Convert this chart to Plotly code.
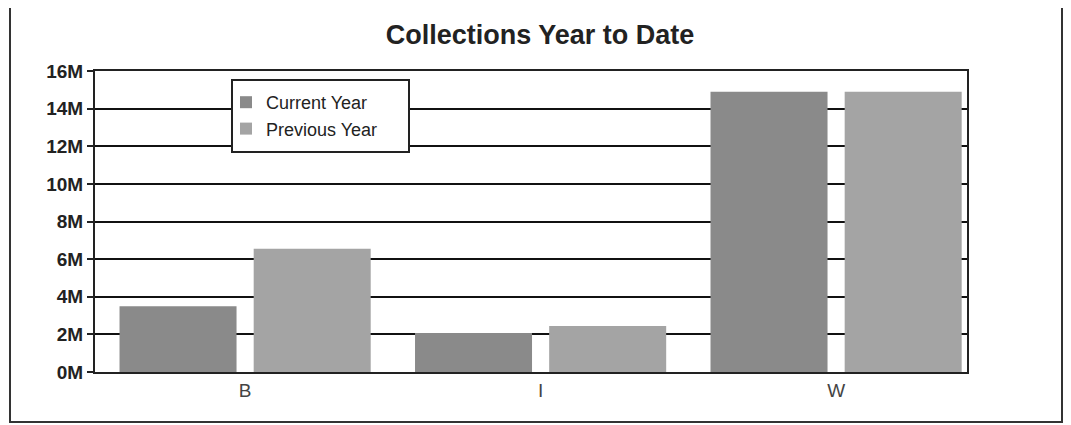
import plotly.graph_objects as go

categories = ["B", "I", "W"]
current_year = [3.5e6, 2.07e6, 14.9e6]
previous_year = [6.55e6, 2.45e6, 14.9e6]
y_ticks = [0, 2e6, 4e6, 6e6, 8e6, 10e6, 12e6, 14e6, 16e6]
y_tick_labels = ["0M", "2M", "4M", "6M", "8M", "10M", "12M", "14M", "16M"]

OFF = 8  # page body margin
W, H = 1071, 425
# target plot area in screen pixels: x 95..967, y 71..372
L = 95 - OFF
T = 71 - OFF
R = W - (967 - OFF)
B = H - (372 - OFF)
pw, ph = W - L - R, H - T - B

def px(x):
    return (x - OFF - L) / pw

def py(y):
    return (H - B - (y - OFF)) / ph

fig = go.Figure()
fig.add_trace(go.Bar(
    name="Current Year", x=categories, y=current_year,
    marker=dict(color="#8a8a8a", line=dict(width=0)),
    width=0.396, offset=-0.425,
))
fig.add_trace(go.Bar(
    name="Previous Year", x=categories, y=previous_year,
    marker=dict(color="#a4a4a4", line=dict(width=0)),
    width=0.396, offset=0.029,
))

fig.update_layout(
    width=W, height=H,
    margin=dict(l=L, r=R, t=T, b=B),
    paper_bgcolor="white", plot_bgcolor="white",
    font=dict(family="Liberation Sans, Arial, sans-serif", color="#222"),
    title=dict(text="<b>Collections Year to Date</b>", x=(540 - OFF) / W, xanchor="center",
               y=1 - (35 - OFF) / H, yanchor="middle", font=dict(size=27, color="#222")),
    barmode="group",
    showlegend=True,
    legend=dict(x=px(226), y=py(84), xanchor="left", yanchor="top",
                borderwidth=0, bgcolor="rgba(0,0,0,0)",
                font=dict(size=18, color="#222"), traceorder="normal",
                itemsizing="constant"),
    xaxis=dict(range=[-0.508, 2.443], showgrid=False, showline=True, mirror=True,
               linecolor="#222", linewidth=2, ticks="", tickfont=dict(size=19, color="#444")),
    yaxis=dict(range=[0, 16e6], tickvals=y_ticks, ticktext=["<b>%s</b>" % t for t in y_tick_labels],
               showgrid=True, gridcolor="#111", gridwidth=2, zeroline=False,
               showline=True, mirror=True, linecolor="#222", linewidth=2,
               ticks="outside", ticklen=6, tickcolor="#222", tickwidth=2,
               tickfont=dict(size=19, color="#222", family="Liberation Sans, Arial, sans-serif")),
    shapes=[
        dict(type="rect", xref="paper", yref="paper",
             x0=px(10), x1=px(1062), y0=py(422), y1=py(7),
             line=dict(color="#333", width=2), fillcolor="rgba(0,0,0,0)", layer="below"),
        dict(type="rect", xref="paper", yref="paper",
             x0=px(232), x1=px(409), y0=py(152), y1=py(80),
             line=dict(color="#222", width=2), fillcolor="white", layer="above"),
    ],
)

fig.write_html("out.html")
